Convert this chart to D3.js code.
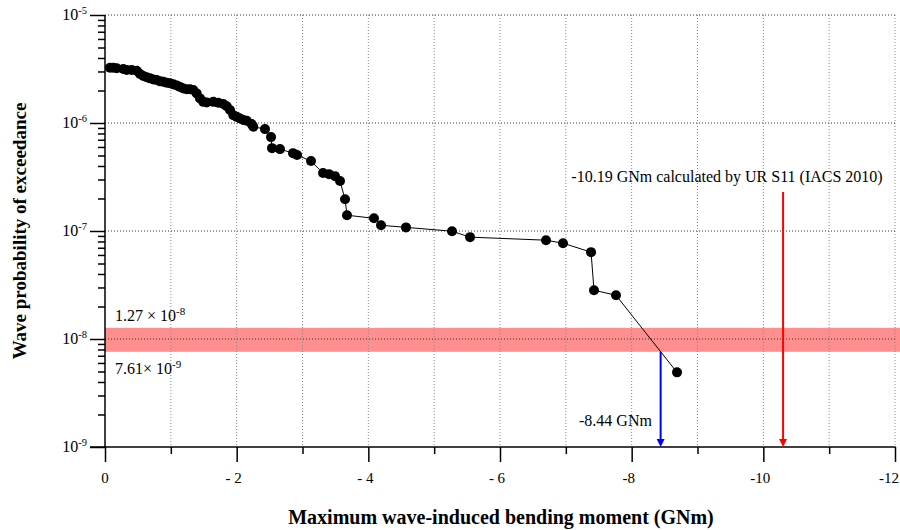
<!DOCTYPE html>
<html><head><meta charset="utf-8">
<script src="https://cdn.jsdelivr.net/npm/d3@7"></script>
<style>body{margin:0;background:#fff}</style>
</head><body><svg id="c" width="900" height="530"></svg>
<script>
// ---- data ----
const moments = [-0.076,-0.126,-0.178,-0.278,-0.330,-0.406,-0.482,-0.532,-0.582,-0.633,-0.684,-0.734,-0.785,-0.836,-0.886,-0.937,-0.987,-1.038,-1.089,-1.139,-1.189,-1.241,-1.291,-1.341,-1.393,-1.443,-1.493,-1.545,-1.645,-1.721,-1.797,-1.849,-1.899,-1.949,-2.001,-2.051,-2.101,-2.153,-2.228,-2.253,-2.430,-2.522,-2.537,-2.658,-2.856,-2.917,-3.129,-3.312,-3.403,-3.494,-3.570,-3.646,-3.676,-4.086,-4.193,-4.572,-5.271,-5.545,-6.699,-6.957,-7.383,-7.428,-7.762,-8.689];
const probs = [3.25e-6,3.25e-6,3.21e-6,3.16e-6,3.09e-6,3.09e-6,3.05e-6,2.84e-6,2.72e-6,2.65e-6,2.59e-6,2.53e-6,2.50e-6,2.43e-6,2.41e-6,2.36e-6,2.33e-6,2.28e-6,2.23e-6,2.16e-6,2.09e-6,2.05e-6,2.05e-6,2.02e-6,1.88e-6,1.69e-6,1.57e-6,1.55e-6,1.57e-6,1.54e-6,1.50e-6,1.43e-6,1.32e-6,1.18e-6,1.14e-6,1.10e-6,1.065e-6,1.05e-6,9.77e-7,9.23e-7,8.78e-7,7.40e-7,5.85e-7,5.73e-7,5.26e-7,5.05e-7,4.44e-7,3.44e-7,3.36e-7,3.22e-7,2.90e-7,1.97e-7,1.40e-7,1.31e-7,1.13e-7,1.08e-7,9.96e-8,8.77e-8,8.22e-8,7.71e-8,6.37e-8,2.83e-8,2.54e-8,4.91e-9];
const yTickExps = [-5,-6,-7,-8,-9];
const xTickValues = [0,-1,-2,-3,-4,-5,-6,-7,-8,-9,-10,-11,-12];
const xTickLabels = ["0","","- 2","","- 4","","- 6","","-8","","-10","","-12"];
const bandUpper = 1.27e-8, bandLower = 7.61e-9;
const bandUpperLabel = ["1.27 \u00d7 10", "-8"];
const bandLowerLabel = ["7.61\u00d7 10", "-9"];
const crossMoment = -8.44, crossLabel = "-8.44 GNm";
const ursMoment = -10.3, ursLabel = "-10.19 GNm calculated by UR S11 (IACS 2010)";
const xTitle = "Maximum wave-induced bending moment (GNm)";
const yTitle = "Wave probability of exceedance";

// ---- drawing ----
const svg = d3.select("#c");
const FONT = "'Liberation Serif','Times New Roman',serif";
const x = d3.scaleLinear().domain([0,-12]).range([105,895]);
const y = d3.scaleLog().domain([1e-5,1e-9]).range([15,447]);

// band
svg.append("rect").attr("x", x(0)).attr("width", 900 - x(0))
  .attr("y", y(bandUpper)).attr("height", y(bandLower) - y(bandUpper))
  .attr("fill", "#ff8f8f");

// grid
const g = svg.append("g");
xTickValues.slice(1).forEach(v => {
  g.append("line").attr("x1", x(v)).attr("x2", x(v)).attr("y1", y(1e-5)).attr("y2", y(1e-9))
   .attr("stroke", "#888").attr("stroke-width", 1).attr("stroke-dasharray", "1,2");
});
yTickExps.slice(0, 4).forEach(e => {
  g.append("line").attr("x1", x(0)).attr("x2", x(-12)).attr("y1", y(Math.pow(10,e))).attr("y2", y(Math.pow(10,e)))
   .attr("stroke", "#333").attr("stroke-width", 1).attr("stroke-dasharray", "1,2");
});

// axes
const yMinor = [];
for (let e = -9; e < -5; e++) for (let k = 2; k <= 9; k++) yMinor.push(k * Math.pow(10, e));
const yAxisMinor = d3.axisLeft(y).tickValues(yMinor).tickSize(7).tickFormat("");
const yAxisMajor = d3.axisLeft(y).tickValues(yTickExps.map(e => Math.pow(10,e))).tickSize(15).tickFormat("");
const yg1 = svg.append("g").attr("transform", `translate(${x(0)},0)`).call(yAxisMinor);
const yg2 = svg.append("g").attr("transform", `translate(${x(0)},0)`).call(yAxisMajor);
[yg1, yg2].forEach(a => { a.select(".domain").remove(); a.selectAll("line").attr("stroke","#000").attr("stroke-width",1.5); });

const xAxisMinor = d3.axisBottom(x).tickValues(xTickValues.filter(v => v % 2 !== 0)).tickSize(7).tickFormat("");
const xAxisMajor = d3.axisBottom(x).tickValues(xTickValues.filter(v => v % 2 === 0)).tickSize(15).tickFormat("");
const xg1 = svg.append("g").attr("transform", `translate(0,${y(1e-9)})`).call(xAxisMinor);
const xg2 = svg.append("g").attr("transform", `translate(0,${y(1e-9)})`).call(xAxisMajor);
[xg1, xg2].forEach(a => { a.select(".domain").remove(); a.selectAll("line").attr("stroke","#000").attr("stroke-width",1.5); });

svg.append("line").attr("x1", x(0)).attr("x2", x(0)).attr("y1", y(1e-5)).attr("y2", y(1e-9)+0.75)
  .attr("stroke","#000").attr("stroke-width",1.5);
svg.append("line").attr("x1", x(0)-15).attr("x2", x(-12)+0.75).attr("y1", y(1e-9)).attr("y2", y(1e-9))
  .attr("stroke","#000").attr("stroke-width",1.5);

// y tick labels
yTickExps.forEach(e => {
  const t = svg.append("text").attr("x", 87).attr("y", y(Math.pow(10,e)) + 5)
    .attr("text-anchor","end").attr("font-family",FONT).attr("font-size",16);
  t.append("tspan").text("10");
  t.append("tspan").attr("dy",-6).attr("font-size",10.5).text(String(e));
});
// x tick labels
xTickValues.forEach((v,i) => {
  if (!xTickLabels[i]) return;
  const last = i === xTickValues.length - 1;
  svg.append("text").attr("x", last ? 899 : (v === 0 ? x(v) : x(v) - 3)).attr("y", 483)
    .attr("text-anchor", last ? "end" : "middle")
    .attr("font-family",FONT).attr("font-size",15).text(xTickLabels[i]);
});

// band labels
function supLabel(px, py, parts) {
  const t = svg.append("text").attr("x", px).attr("y", py).attr("font-family",FONT).attr("font-size",16);
  t.append("tspan").text(parts[0]);
  t.append("tspan").attr("dy",-6).attr("font-size",11).text(parts[1]);
}
supLabel(115, 321, bandUpperLabel);
supLabel(115, 374, bandLowerLabel);

// line + dots
const pts = moments.map((m,i) => [m, probs[i]]);
svg.append("path").datum(pts).attr("fill","none").attr("stroke","#000").attr("stroke-width",1)
  .attr("d", d3.line().x(d => x(d[0])).y(d => y(d[1])));
svg.append("g").selectAll("circle").data(pts).join("circle")
  .attr("cx", d => x(d[0])).attr("cy", d => y(d[1])).attr("r", 5).attr("fill","#000");

// arrows
function arrow(xv, y1, color) {
  const px = x(xv), y2 = y(1e-9);
  svg.append("line").attr("x1",px).attr("x2",px).attr("y1",y1).attr("y2",y2-7)
    .attr("stroke",color).attr("stroke-width",2);
  svg.append("path").attr("d", `M${px-4},${y2-8}L${px+4},${y2-8}L${px},${y2}Z`).attr("fill",color);
}
arrow(crossMoment, y(bandLower), "#0000ff");
arrow(ursMoment, 192, "#ff0000");

svg.append("text").attr("x", 579).attr("y", 426).attr("font-family",FONT).attr("font-size",16).text(crossLabel);
svg.append("text").attr("x", 727).attr("y", 182).attr("text-anchor","middle").attr("font-family",FONT).attr("font-size",16).text(ursLabel);

// titles
svg.append("text").attr("x", 501).attr("y", 524).attr("text-anchor","middle").attr("font-family",FONT)
  .attr("font-size",20).attr("font-weight","bold").text(xTitle);
svg.append("text").attr("transform","translate(26,231) rotate(-90)").attr("text-anchor","middle").attr("font-family",FONT)
  .attr("font-size",19).attr("font-weight","bold").text(yTitle);
</script></body></html>
